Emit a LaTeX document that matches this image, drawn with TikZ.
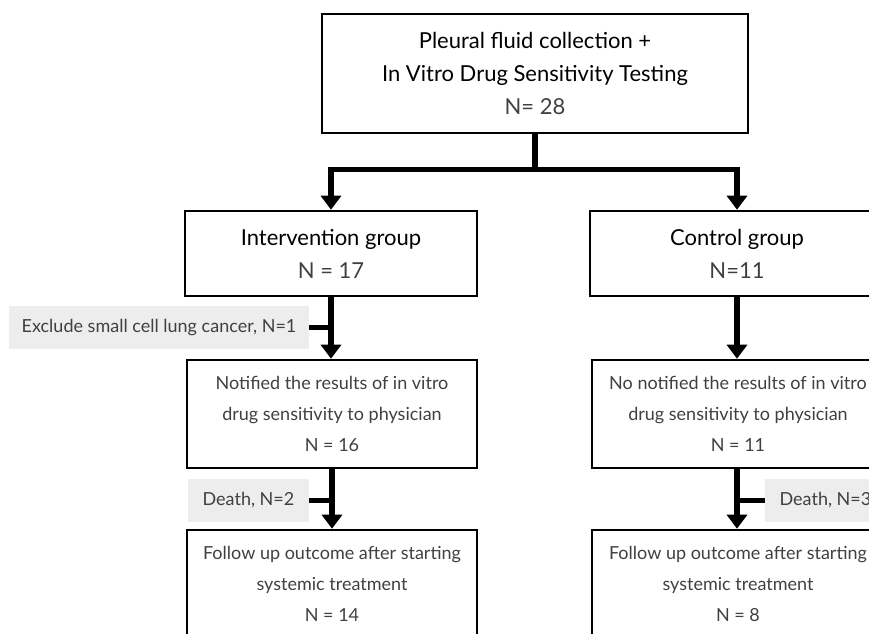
\documentclass[tikz,border=0pt]{standalone}
\usepackage{fontspec}
\setmainfont{Lato}
\usetikzlibrary{arrows.meta}
\definecolor{notegray}{HTML}{EDEDED}
\definecolor{textgray}{HTML}{404040}
\begin{document}
\begin{tikzpicture}[x=0.5pt,y=-0.5pt,
        box/.style={draw=black, line width=1.3pt, align=center, inner sep=0pt,
            text=textgray, font=\fontsize{9}{15.5}\selectfont},
        note/.style={fill=notegray, align=center, inner sep=0pt,
            text=textgray, font=\fontsize{9}{15.5}\selectfont},
        head/.style={text=black, font=\fontsize{11}{16.5}\selectfont},
        conn/.style={line width=2.6pt},
        arr/.style={conn, -{Triangle[width=10pt,length=7pt]}}]
        \useasboundingbox (0,0) rectangle (869,633);
        \clip (0,0) rectangle (869,633);

        %top box
        \node [box, head, minimum width=213pt, minimum height=59.5pt] (collect) at (535,73.5)
            {Pleural fluid collection +\\In Vitro Drug Sensitivity Testing\\\textcolor{textgray}{N= 28}};

        %groups
        \node [box, head, minimum width=146pt, minimum height=42.5pt] (interv) at (331,253.5)
            {Intervention group\\\textcolor{textgray}{N = 17}};
        \node [box, head, minimum width=147pt, minimum height=42.5pt] (control) at (737,253.5)
            {Control group\\\textcolor{textgray}{N=11}};

        %notified boxes
        \node [box, minimum width=145pt, minimum height=54pt] (notified) at (332,414)
            {Notified the results of in vitro\\drug sensitivity to physician\\N = 16};
        \node [box, minimum width=146pt, minimum height=54pt] (nonotified) at (738,414)
            {No notified the results of in vitro\\drug sensitivity to physician\\N = 11};

        %follow up boxes
        \node [box, minimum width=145pt, minimum height=54pt] (followA) at (332,584)
            {Follow up outcome after starting\\systemic treatment\\N = 14};
        \node [box, minimum width=146pt, minimum height=54pt] (followB) at (738,584)
            {Follow up outcome after starting\\systemic treatment\\N = 8};

        %excluded
        \node [note, minimum width=150pt, minimum height=21.5pt] (exclude) at (159,327.5)
            {Exclude small cell lung cancer, N=1};
        \node [note, minimum width=60.5pt, minimum height=21.5pt] (deathA) at (248.5,500.5)
            {Death, N=2};
        \node [note, minimum width=60.5pt, minimum height=21.5pt] (deathB) at (825.5,500.5)
            {Death, N=3};

        %arrows
        \draw [conn] (collect.south) -- ++(0,35) coordinate (split);
        \draw [arr] (split) -| (interv.north);
        \draw [arr] (split) -| (control.north);

        \draw [arr] (interv.south) -- (interv.south |- notified.north);
        \draw [arr] (control.south) -- (control.south |- nonotified.north);
        \draw [arr] (notified.south) -- (followA.north);
        \draw [arr] (nonotified.south -| control.south) -- (control.south |- followB.north);

        \draw [conn] (exclude.east) -- (exclude.east -| interv.south);
        \draw [conn] (deathA.east) -- (deathA.east -| notified.south);
        \draw [conn] (deathB.west) -- (deathB.west -| control.south);
    \end{tikzpicture}
\end{document}
